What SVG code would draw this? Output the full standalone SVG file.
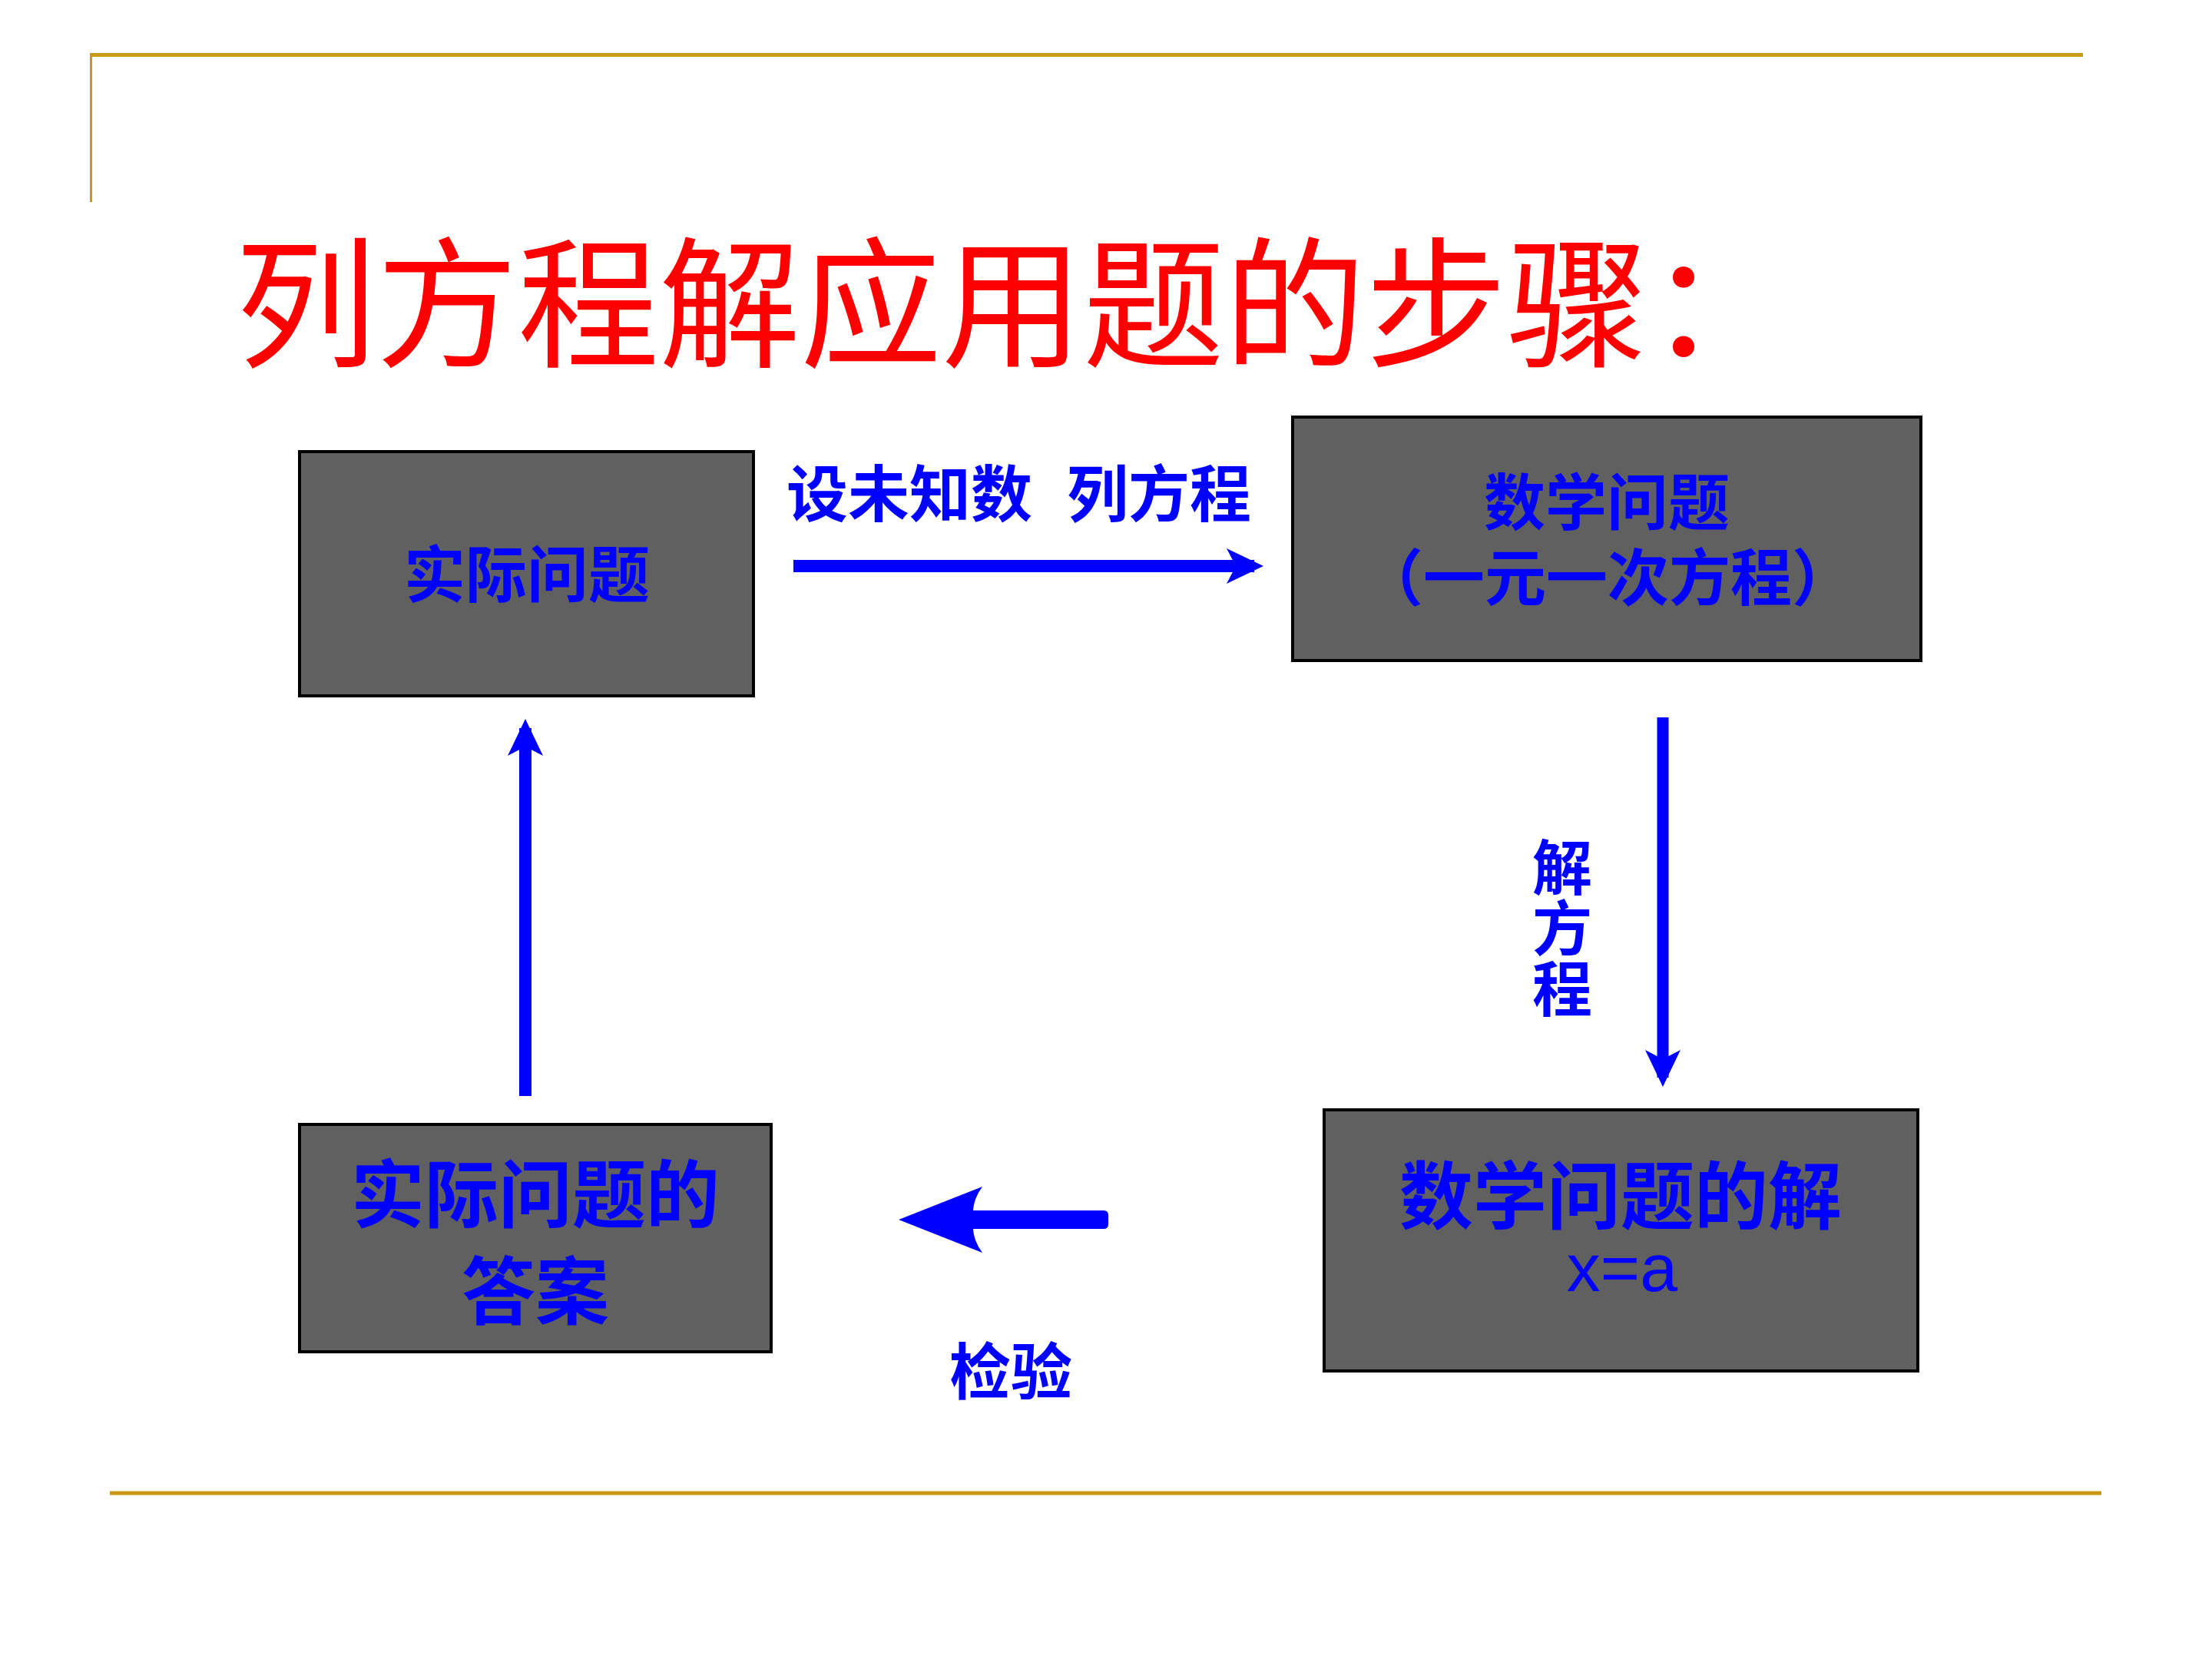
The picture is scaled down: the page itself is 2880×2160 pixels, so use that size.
<svg xmlns="http://www.w3.org/2000/svg" width="2880" height="2160" viewBox="0 0 2880 2160">
<style>
.rule{stroke:#C99A14;fill:none}
.box{fill:#606060;stroke:#000;stroke-width:4}
.lbl{font-family:"Noto Sans CJK SC","Noto Sans",sans-serif;fill:#0000FF;font-weight:bold;text-anchor:middle}
.conn{stroke:#0000FF;fill:none}
.title{font-family:"Noto Sans CJK SC",sans-serif;fill:#FF0000;font-size:184px}
</style>
<defs>
<marker id="head" viewBox="0 0 48 46" markerWidth="48" markerHeight="46" refX="36" refY="23" markerUnits="userSpaceOnUse" orient="auto">
<path d="M48,23 L0,0 L12,23 L0,46 Z" fill="#0000FF"/>
</marker>
</defs>
<rect width="2880" height="2160" fill="#FFFFFF"/>
<line class="rule" x1="117" y1="71.5" x2="2712" y2="71.5" stroke-width="5"/>
<line class="rule" x1="118.5" y1="69" x2="118.5" y2="263" stroke-width="3"/>
<line class="rule" x1="143" y1="1944" x2="2736" y2="1944" stroke-width="5"/>
<text class="title" x="306" y="464">列方程解应用题的步骤：</text>

<g id="node-actual">
<rect class="box" x="390" y="588" width="591" height="318"/>
<text class="lbl" x="686" y="777" font-size="80">实际问题</text>
</g>
<g id="node-math">
<rect class="box" x="1683" y="543" width="818" height="317"/>
<text class="lbl" x="2092" y="683" font-size="80">数学问题</text>
<text class="lbl" x="2093" y="781" font-size="80">（一元一次方程）</text>
</g>
<g id="node-solution">
<rect class="box" x="1724" y="1445" width="773" height="340"/>
<text class="lbl" x="2110" y="1592" font-size="96">数学问题的解<tspan x="2112" y="1681" font-size="88" style="font-family:'Liberation Sans',sans-serif;font-weight:normal">x=a</tspan></text>
</g>
<g id="node-answer">
<rect class="box" x="390" y="1464" width="614" height="296"/>
<text class="lbl" x="697" y="1590" font-size="96">实际问题的</text>
<text class="lbl" x="697" y="1716" font-size="96">答案</text>
</g>

<g id="connectors">
<line class="conn" x1="1033" y1="737" x2="1633" y2="737" stroke-width="16" marker-end="url(#head)"/>
<line class="conn" x1="2165" y1="934" x2="2165" y2="1403" stroke-width="15" marker-end="url(#head)"/>
<line class="conn" x1="684" y1="1427" x2="684" y2="948" stroke-width="16" marker-end="url(#head)"/>
<path d="M1170,1588 L1279,1545 Q1268,1560 1267,1576 L1437,1576 Q1443,1576 1443,1582 L1443,1594 Q1443,1600 1437,1600 L1267,1600 Q1268,1616 1279,1631 Z" fill="#0000FF"/>
<text class="lbl" font-size="80" style="text-anchor:start" x="1024" y="672">设未知数<tspan x="1389">列方程</tspan></text>
<text class="lbl" font-size="78" style="writing-mode:vertical-rl;text-anchor:start;letter-spacing:1px" x="2034" y="1090">解方程</text>
<text class="lbl" font-size="80" x="1316" y="1815">检验</text>
</g>
</svg>
